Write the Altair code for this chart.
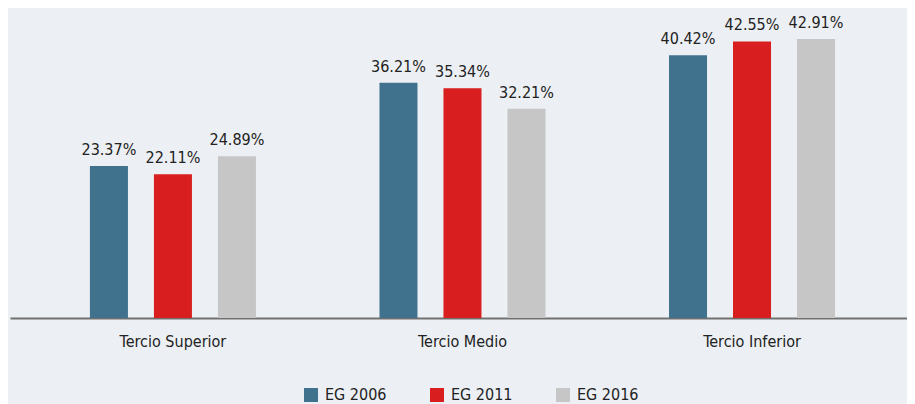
import altair as alt
import pandas as pd

groups = ["Tercio Superior", "Tercio Medio", "Tercio Inferior"]
series = ["EG 2006", "EG 2011", "EG 2016"]
v2006 = [23.37, 36.21, 40.42]
v2011 = [22.11, 35.34, 42.55]
v2016 = [24.89, 32.21, 42.91]
colors = ["#40728E", "#D81E1E", "#C6C6C6"]

FONT = "DejaVu Sans Condensed"

rows = []
for s, vals in zip(series, [v2006, v2011, v2016]):
    for g, v in zip(groups, vals):
        rows.append({"grupo": g, "serie": s, "valor": v, "label": f"{v:.2f}%"})
df = pd.DataFrame(rows)

x = alt.X(
    "grupo:N",
    sort=groups,
    scale=alt.Scale(paddingInner=0, paddingOuter=0.049, align=0.64),
    axis=alt.Axis(
        title=None,
        labelAngle=0,
        ticks=False,
        tickSize=0,
        labelPadding=28,
        labelBaseline="alphabetic",
        domainColor="#707070",
        domainWidth=2,
        labelFont=FONT,
        labelFontSize=16,
        labelColor="#222222",
    ),
)
xo = alt.XOffset(
    "serie:N",
    sort=series,
    scale=alt.Scale(paddingInner=0.406, paddingOuter=0.965),
)
y = alt.Y("valor:Q", scale=alt.Scale(domain=[0, 46], nice=False), axis=None)

base = alt.Chart(df).encode(x=x, xOffset=xo, y=y)

bars = base.mark_bar().encode(
    color=alt.Color(
        "serie:N",
        sort=series,
        scale=alt.Scale(domain=series, range=colors),
        legend=alt.Legend(
            title=None,
            orient="none",
            legendX=293,
            legendY=368,
            direction="horizontal",
            symbolType="square",
            symbolSize=196,
            symbolStrokeWidth=0,
            symbolOpacity=1,
            labelFont=FONT,
            labelFontSize=16,
            labelColor="#222222",
            labelOffset=6,
            columnPadding=42,
            padding=0,
        ),
    )
)

labels = base.mark_text(
    dy=-11, baseline="alphabetic", fontSize=16, font=FONT, color="#222222"
).encode(text="label:N")

chart = (
    alt.layer(bars, labels)
    .properties(
        width=897,
        height=299,
        background="#ECF0F4",
        autosize=alt.AutoSizeParams(type="none"),
        padding={"left": 2, "top": 11, "right": 0, "bottom": 86},
    )
    .configure_view(strokeWidth=0)
)

chart.save("out.html", embed_options={"renderer": "svg", "actions": False})
